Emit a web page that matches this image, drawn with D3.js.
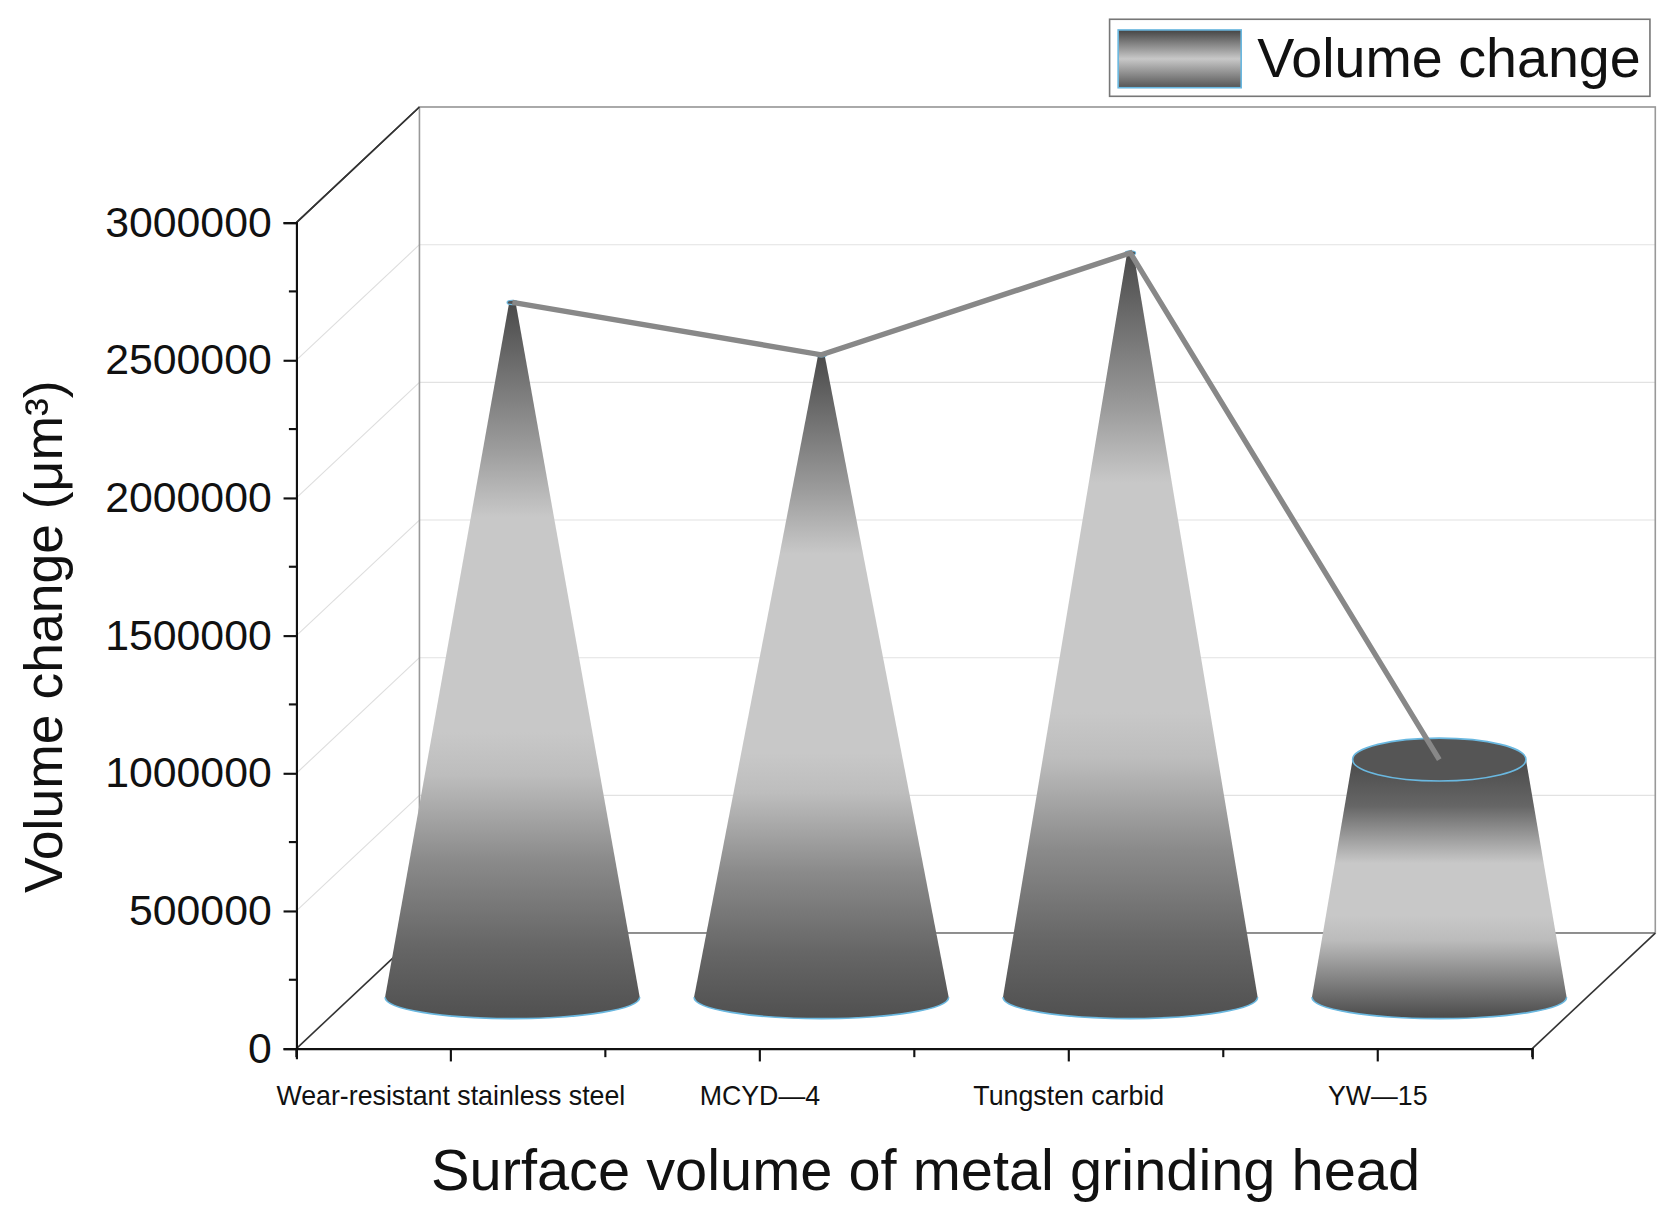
<!DOCTYPE html><html><head><meta charset="utf-8">
<script src="https://cdn.jsdelivr.net/npm/d3@7"></script>
<style>body{margin:0;background:#fff}text{font-family:"Liberation Sans Narrow",Arial,"Liberation Sans",sans-serif}</style></head><body>
<svg id="c" width="1677" height="1216"></svg>
<script>
const categories=["Wear-resistant stainless steel","MCYD—4","Tungsten carbid","YW—15"];
const values=[2500000,2310000,2680000,840000];
const topRadius=[3,3,3,81];
const yTicks=[0,500000,1000000,1500000,2000000,2500000,3000000];
const seriesName="Volume change";

const svg=d3.select("#c");
const g=svg.append("g").attr("transform","scale(1.07)");
const DX=115,DY=-108;
const y=d3.scaleLinear().domain([0,3000000]).range([980,208]);
const x=d3.scaleBand().domain(categories).range([277,1432]);
const defs=svg.append("defs");

const gr=g.append("g");
yTicks.forEach(v=>{
  const yy=y(v);
  gr.append("line").attr("x1",277).attr("y1",yy).attr("x2",277+DX).attr("y2",yy+DY).attr("stroke",v==0||v==3000000?"#333":"#ddd").attr("stroke-width",v==0||v==3000000?1.5:1);
  gr.append("line").attr("x1",277+DX).attr("y1",yy+DY).attr("x2",1432+DX).attr("y2",yy+DY).attr("stroke",v==0?"#333":"#e2e2e2").attr("stroke-width",v==0?1.5:1);
});
gr.append("rect").attr("x",277+DX).attr("y",100).attr("width",1432-277).attr("height",y(0)+DY-100).attr("fill","none").attr("stroke","#999").attr("stroke-width",1.5);
gr.append("line").attr("x1",277+DX).attr("y1",100).attr("x2",277).attr("y2",208).attr("stroke","#333").attr("stroke-width",1.5);
gr.append("line").attr("x1",1432).attr("y1",980).attr("x2",1432+DX).attr("y2",980+DY).attr("stroke","#333").attr("stroke-width",1.5);

const stopsCone=[[0,"#505050"],[0.1,"#666"],[0.22,"#8a8a8a"],[0.34,"#bdbdbd"],[0.4,"#c8c8c8"],[0.7,"#c8c8c8"],[0.8,"#9a9a9a"],[1,"#4a4a4a"]];
const stopsYW=[[0,"#4a4a4a"],[0.12,"#777"],[0.3,"#bbb"],[0.4,"#c8c8c8"],[0.6,"#c8c8c8"],[0.82,"#666"],[1,"#4a4a4a"]];
const R=119,RY=20;
categories.forEach((c,i)=>{
  const cx=x(c)+x.bandwidth()/2+DX/2, by=y(0)+DY/2+6, ty=y(values[i])+DY/2;
  const rt=topRadius[i];
  const id="gr"+i;
  const lg=defs.append("linearGradient").attr("id",id).attr("x1",0).attr("y1",1).attr("x2",0).attr("y2",0);
  (i==3?stopsYW:stopsCone).forEach(s=>lg.append("stop").attr("offset",s[0]).attr("stop-color",s[1]));
  const p=d3.path();
  p.moveTo(cx-R,by);p.lineTo(cx-rt,ty);p.lineTo(cx+rt,ty);p.lineTo(cx+R,by);
  const pd=p.toString()+` A${R},${RY} 0 0 1 ${cx-R},${by} Z`;
  g.append("path").attr("d",pd).attr("fill",`url(#${id})`);
  g.append("path").attr("d",`M${cx-R},${by} A${R},${RY} 0 0 0 ${cx+R},${by}`).attr("fill","none").attr("stroke","#6ab8e0").attr("stroke-width",1.5);
  if(rt>5){g.append("ellipse").attr("cx",cx).attr("cy",ty).attr("rx",rt).attr("ry",RY).attr("fill","#555").attr("stroke","#6ab8e0").attr("stroke-width",1.5);}
  else g.append("ellipse").attr("cx",cx).attr("cy",ty).attr("rx",5).attr("ry",2).attr("fill","#555").attr("stroke","#6ab8e0");
});
const pts=categories.map((c,i)=>[x(c)+x.bandwidth()/2+DX/2,y(values[i])+DY/2]);
g.append("path").attr("d",d3.line()(pts)).attr("fill","none").attr("stroke","#888").attr("stroke-width",5);

const ya=g.append("g").attr("transform","translate(277,0)").call(d3.axisLeft(y).tickValues(yTicks).tickSize(12).tickFormat(d3.format("d")));
ya.selectAll("text").attr("font-size",40).attr("fill","#111").attr("dx",-8);
ya.select(".domain").attr("stroke","#111").attr("stroke-width",2);
ya.selectAll("line").attr("stroke","#111").attr("stroke-width",2);
const minor=d3.range(250000,3000000,500000);
g.append("g").selectAll("line").data(minor).join("line").attr("x1",277).attr("x2",270).attr("y1",d=>y(d)).attr("y2",d=>y(d)).attr("stroke","#111").attr("stroke-width",2);
const xa=g.append("g").attr("transform","translate(0,980)").call(d3.axisBottom(x).tickSize(12).tickSizeOuter(10));
xa.selectAll("text").attr("font-size",25).attr("fill","#111").attr("dy",38);
xa.select(".domain").attr("stroke","#111").attr("stroke-width",2);
xa.selectAll("line").attr("stroke","#111").attr("stroke-width",2);
g.append("g").selectAll("line").data(d3.range(5)).join("line").attr("x1",d=>277+d*x.bandwidth()).attr("x2",d=>277+d*x.bandwidth()).attr("y1",980).attr("y2",988).attr("stroke","#111").attr("stroke-width",2);

g.append("text").attr("x",865).attr("y",1112).attr("text-anchor","middle").attr("font-size",54).attr("fill","#111").text("Surface volume of metal grinding head");
g.append("text").attr("transform","translate(58,595) rotate(-90)").attr("text-anchor","middle").attr("font-size",50).attr("fill","#111").text("Volume change (μm³)");

const lgd=defs.append("linearGradient").attr("id","lg").attr("x1",0).attr("y1",0).attr("x2",0).attr("y2",1);
[[0,"#444"],[0.5,"#c8c8c8"],[1,"#555"]].forEach(s=>lgd.append("stop").attr("offset",s[0]).attr("stop-color",s[1]));
g.append("rect").attr("x",1037).attr("y",18).attr("width",505).attr("height",72).attr("fill","#fff").attr("stroke","#777").attr("stroke-width",1.5);
g.append("rect").attr("x",1045).attr("y",28).attr("width",115).attr("height",54).attr("fill","url(#lg)").attr("stroke","#6ab8e0").attr("stroke-width",1.5);
g.append("text").attr("x",1175).attr("y",72).attr("font-size",52).attr("fill","#111").text(seriesName);
</script></body></html>
